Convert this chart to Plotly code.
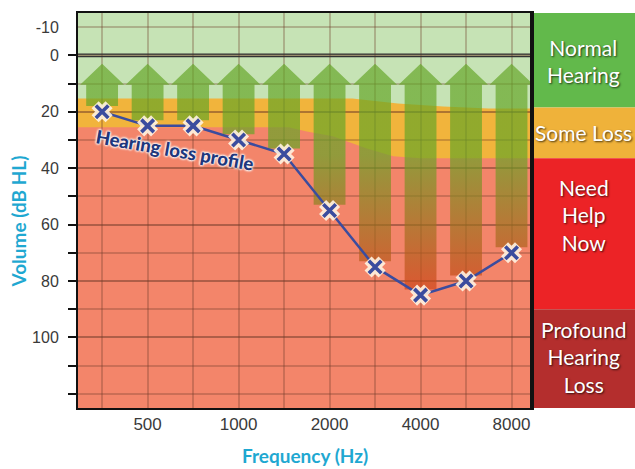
import plotly.graph_objects as go

# Audiogram data: test frequencies and measured hearing thresholds
freqs = [250, 500, 750, 1000, 1500, 2000, 3000, 4000, 6000, 8000]
thresholds_db = [20, 25, 25, 30, 35, 55, 75, 85, 80, 70]
freq_tick_labels = ["500", "1000", "2000", "4000", "8000"]
db_tick_labels = [-10, 0, 20, 40, 60, 80, 100]
db_minor_ticks = [0, 10, 20, 30, 40, 50, 60, 70, 80, 90, 100, 110, 120]

# Hearing-level zones shown in the side legend
zone_names = ["Normal<br>Hearing", "Some Loss", "Need<br>Help<br>Now", "Profound<br>Hearing<br>Loss"]
zone_bounds = [-15, 18.5, 36.5, 90, 125]
zone_label_db = [2.0, 27.5, 56.5, 107]
zone_colors = ["#62b94b", "#efb23a", "#ec2326", "#b42e2d"]

# Zone edges inside the chart (frequency position, dB)
some_loss_edge_pos = [-0.53, 5.5, 6.5, 7.5, 8.5, 9.45]
some_loss_edge_db = [15.3, 15.3, 17.1, 18.1, 18.85, 18.85]
need_help_edge_pos = [-0.53, 4.1, 4.5, 5.07, 5.82, 6.4, 7.0, 9.45]
need_help_edge_db = [25.5, 25.5, 27.0, 28.7, 33.0, 35.8, 36.5, 36.5]

X_RANGE = [-0.53, 9.45]
Y_RANGE = [125, -15]

pos = list(range(len(freqs)))
ticktext = [str(f) if str(f) in freq_tick_labels else "" for f in freqs]
db_ticktext = [str(v) for v in db_tick_labels]  # plain hyphen for negatives

fig = go.Figure()


def band_path(xs, ys, bottom):
    pts = " L ".join(f"{x},{y}" for x, y in zip(xs, ys))
    return f"M {pts} L {xs[-1]},{bottom} L {xs[0]},{bottom} Z"


shapes = [
    dict(type="path", xref="x", yref="y", layer="below",
         path=band_path(some_loss_edge_pos, some_loss_edge_db, Y_RANGE[0]),
         fillcolor="#f1b43c", line=dict(width=0)),
    dict(type="path", xref="x", yref="y", layer="below",
         path=band_path(need_help_edge_pos, need_help_edge_db, Y_RANGE[0]),
         fillcolor="#f3856a", line=dict(width=0)),
]

# Side legend bands
panel_right = 1 + 103 / 454
for lo, hi, col in zip(zone_bounds[:-1], zone_bounds[1:], zone_colors):
    shapes.append(dict(type="rect", xref="paper", yref="y", x0=1, x1=panel_right,
                       y0=lo, y1=hi, fillcolor=col, line=dict(width=0), layer="above"))

# Double rule at 0 dB
for off in (-0.45, 0.45):
    shapes.append(dict(type="line", xref="paper", yref="y", x0=0, x1=1, y0=off, y1=off,
                       line=dict(color="#333333", width=1.2), layer="above"))
# Heavy divider between chart and legend
shapes.append(dict(type="line", xref="paper", yref="paper", x0=1, x1=1, y0=0, y1=1,
                   line=dict(color="#111111", width=4), layer="above"))

# Upward arrows from each threshold to the normal range
TIP_DB, HEAD_DB = 3.0, 10.4
HEAD_HW, SHAFT_HW = 0.483, 0.35
ax, ay = [], []
for p, v in zip(pos, thresholds_db):
    bottom = v - 2
    ax += [p - SHAFT_HW, p - SHAFT_HW, p - HEAD_HW, p, p + HEAD_HW, p + SHAFT_HW, p + SHAFT_HW, p - SHAFT_HW, None]
    ay += [bottom, HEAD_DB, HEAD_DB, TIP_DB, HEAD_DB, HEAD_DB, bottom, bottom, None]

fig.add_trace(go.Scatter(
    x=ax, y=ay, mode="lines", fill="toself", line=dict(width=0),
    fillgradient=dict(type="vertical", start=35, stop=85,
                      colorscale=[[0, "rgba(100,165,38,0.68)"], [1, "rgba(212,62,22,0.68)"]]),
    hoverinfo="skip", showlegend=False))

# Hearing loss profile line and markers
fig.add_trace(go.Scatter(x=pos, y=thresholds_db, mode="lines",
                         line=dict(color="#3b4c9e", width=2.5), showlegend=False, hoverinfo="skip"))
fig.add_trace(go.Scatter(x=pos, y=thresholds_db, mode="markers",
                         marker=dict(symbol="x-thin", size=14,
                                     line=dict(color="rgba(255,243,225,0.9)", width=10)),
                         showlegend=False, hoverinfo="skip"))
fig.add_trace(go.Scatter(x=pos, y=thresholds_db, mode="markers",
                         marker=dict(symbol="x-thin", size=12.5,
                                     line=dict(color="#3b4c9e", width=3.6)),
                         showlegend=False))

annotations = [
    dict(text="Hearing loss profile", x=1.6, y=33.5, xref="x", yref="y", showarrow=False,
         xanchor="center", yanchor="middle", textangle=10,
         font=dict(family="Lato", size=18.5, color="#20377c", weight=900,
                   shadow="0 0 3px #ffffff, 0 0 3px #ffffff, 0 0 2px #ffffff, 0 0 2px #ffffff")),
    dict(text="Volume (dB HL)", x=0, xref="paper", xshift=-60, y=0.5, yref="paper", yshift=-11,
         xanchor="center", yanchor="middle", textangle=-90, showarrow=False,
         font=dict(family="Lato", size=19, color="#1fa8d1", weight="bold")),
    dict(text="Frequency (Hz)", x=0.5, xref="paper", y=0, yref="paper",
         xanchor="center", yanchor="middle", yshift=-47, showarrow=False,
         font=dict(family="Lato", size=19, color="#1fa8d1", weight="bold")),
]
for name, ydb in zip(zone_names, zone_label_db):
    annotations.append(dict(text=name, x=(1 + panel_right) / 2, xref="paper", y=ydb, yref="y",
                            xanchor="center", yanchor="middle",
                            showarrow=False, align="center",
                            font=dict(family="Lato", size=21, color="#ffffff",
                                      shadow="1px 1px 2px rgba(0,0,0,0.7)")))

grid_col = "rgba(110,60,40,0.3)"
fig.update_layout(
    width=635, height=469,
    margin=dict(l=78, r=103, t=11, b=61),
    paper_bgcolor="#ffffff", plot_bgcolor="#c6e3b5",
    shapes=shapes, annotations=annotations,
    xaxis=dict(range=X_RANGE, tickvals=pos, ticktext=ticktext, ticks="",
               showgrid=True, gridcolor=grid_col, gridwidth=1.5, zeroline=False,
               showline=True, linecolor="#111111", linewidth=2, mirror=True,
               ticklabelstandoff=0,
               tickfont=dict(family="Liberation Sans", size=17, color="#3a3a3a")),
    yaxis=dict(range=Y_RANGE, tickvals=db_tick_labels, ticktext=db_ticktext, ticks="",
               showgrid=True, gridcolor=grid_col, gridwidth=1.5, zeroline=False,
               showline=True, linecolor="#111111", linewidth=2, mirror=True,
               ticklabelstandoff=14,
               tickfont=dict(family="Liberation Sans", size=16, color="#3a3a3a"),
               minor=dict(tickmode="array", tickvals=db_minor_ticks, ticks="outside",
                          ticklen=8, tickwidth=1.5, tickcolor="#111111",
                          showgrid=True, gridcolor=grid_col, gridwidth=1.5)),
)

fig.write_html("out.html")
